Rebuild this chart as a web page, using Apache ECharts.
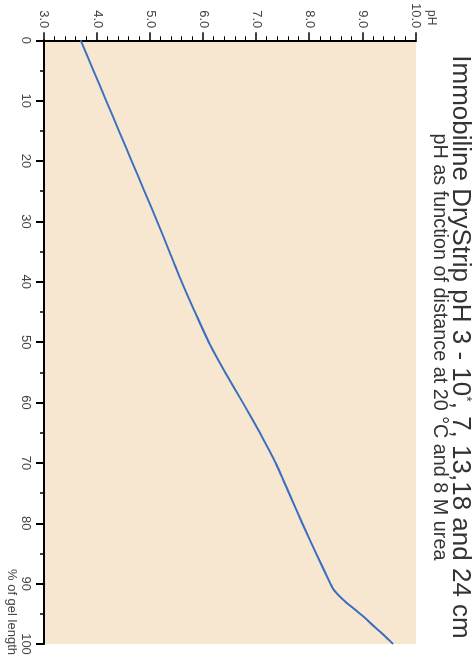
<!DOCTYPE html>
<html>
<head>
<meta charset="utf-8">
<script src="https://cdn.jsdelivr.net/npm/echarts@6/dist/echarts.min.js"></script>
<style>
  html, body { margin: 0; padding: 0; background: #fff; overflow: hidden; }
  /* chart is drawn landscape then turned a quarter clockwise */
  #chart {
    position: absolute; left: 0; top: 0;
    width: 659px; height: 475px;
    transform-origin: 0 0;
    transform: translate(475px, 0) rotate(90deg);
  }
</style>
</head>
<body>
<div id="chart"></div>
<script>
(function () {
    'use strict';

    // % of gel length
    var gelLength = [0, 5, 10, 15, 20, 25, 30, 35, 40, 45, 50, 55, 60, 65, 70, 75, 80, 85, 90, 91, 92, 93, 94, 95, 96, 97, 98, 99, 100];
    // pH
    var phValues = [3.69, 3.93, 4.17, 4.41, 4.65, 4.89, 5.13, 5.36, 5.59, 5.84, 6.10, 6.41, 6.74, 7.06, 7.36, 7.61, 7.86, 8.12, 8.39, 8.45, 8.55, 8.67, 8.81, 8.95, 9.08, 9.20, 9.33, 9.45, 9.57];

    var titleText = 'Immobiline DryStrip pH 3 - 10{sup|*}, 7, 13,18 and 24 cm';
    var subtitleText = 'pH as function of distance at 20 \u00b0C and 8 M urea';

    var font = 'Liberation Sans, Arial, sans-serif';
    var chart = echarts.init(document.getElementById('chart'), null, { renderer: 'canvas' });

    var points = gelLength.map(function (g, i) { return [g, phValues[i]]; });

    var options = {
        animation: false,
        title: {
            text: titleText,
            subtext: subtitleText,
            left: 342,
            textAlign: 'center',
            top: -3,
            itemGap: -2,
            textStyle: {
                fontFamily: font, fontSize: 26, fontWeight: 'normal', color: '#333',
                rich: {
                    sup: { fontFamily: font, fontSize: 14, verticalAlign: 'top', color: '#333', padding: [0, 0, 12, 0] }
                }
            },
            subtextStyle: { fontFamily: font, fontSize: 19.8, color: '#333' }
        },
        grid: {
            left: 40, right: 15, top: 59, bottom: 44,
            show: true, backgroundColor: '#f7e7d0', borderWidth: 0
        },
        xAxis: {
            type: 'value', min: 0, max: 100, interval: 10,
            position: 'bottom',
            axisLine: { show: true, onZero: false, lineStyle: { color: '#000', width: 2 } },
            axisTick: { show: true, inside: false, length: 8, lineStyle: { color: '#000', width: 2 } },
            minorTick: { show: true, splitNumber: 2, length: 4, lineStyle: { color: '#000', width: 1.5 } },
            axisLabel: { fontFamily: font, fontSize: 13, color: '#444', margin: 12 },
            splitLine: { show: false }
        },
        yAxis: {
            type: 'value', min: 3, max: 10, interval: 1,
            axisLine: { show: true, onZero: false, lineStyle: { color: '#000', width: 2 } },
            axisTick: { show: true, inside: false, length: 8, lineStyle: { color: '#000', width: 1.5 } },
            minorTick: { show: true, splitNumber: 5, length: 4, lineStyle: { color: '#000', width: 1 } },
            axisLabel: {
                fontFamily: font, fontSize: 13, color: '#444', margin: 12,
                formatter: function (v) { return v.toFixed(1); }
            },
            splitLine: { show: false }
        },
        graphic: [
            { type: 'text', left: 10, top: 38, style: { text: 'pH', fontFamily: font, fontSize: 12, fill: '#444' } },
            { type: 'text', right: 4, top: 457, style: { text: '% of gel length', fontFamily: font, fontSize: 13, fill: '#444' } }
        ],
        series: [{
            type: 'line',
            data: points,
            showSymbol: false,
            smooth: 0.2,
            lineStyle: { color: '#3a6fc0', width: 2 }
        }]
    };

    chart.setOption(options);
})();
</script>
</body>
</html>
